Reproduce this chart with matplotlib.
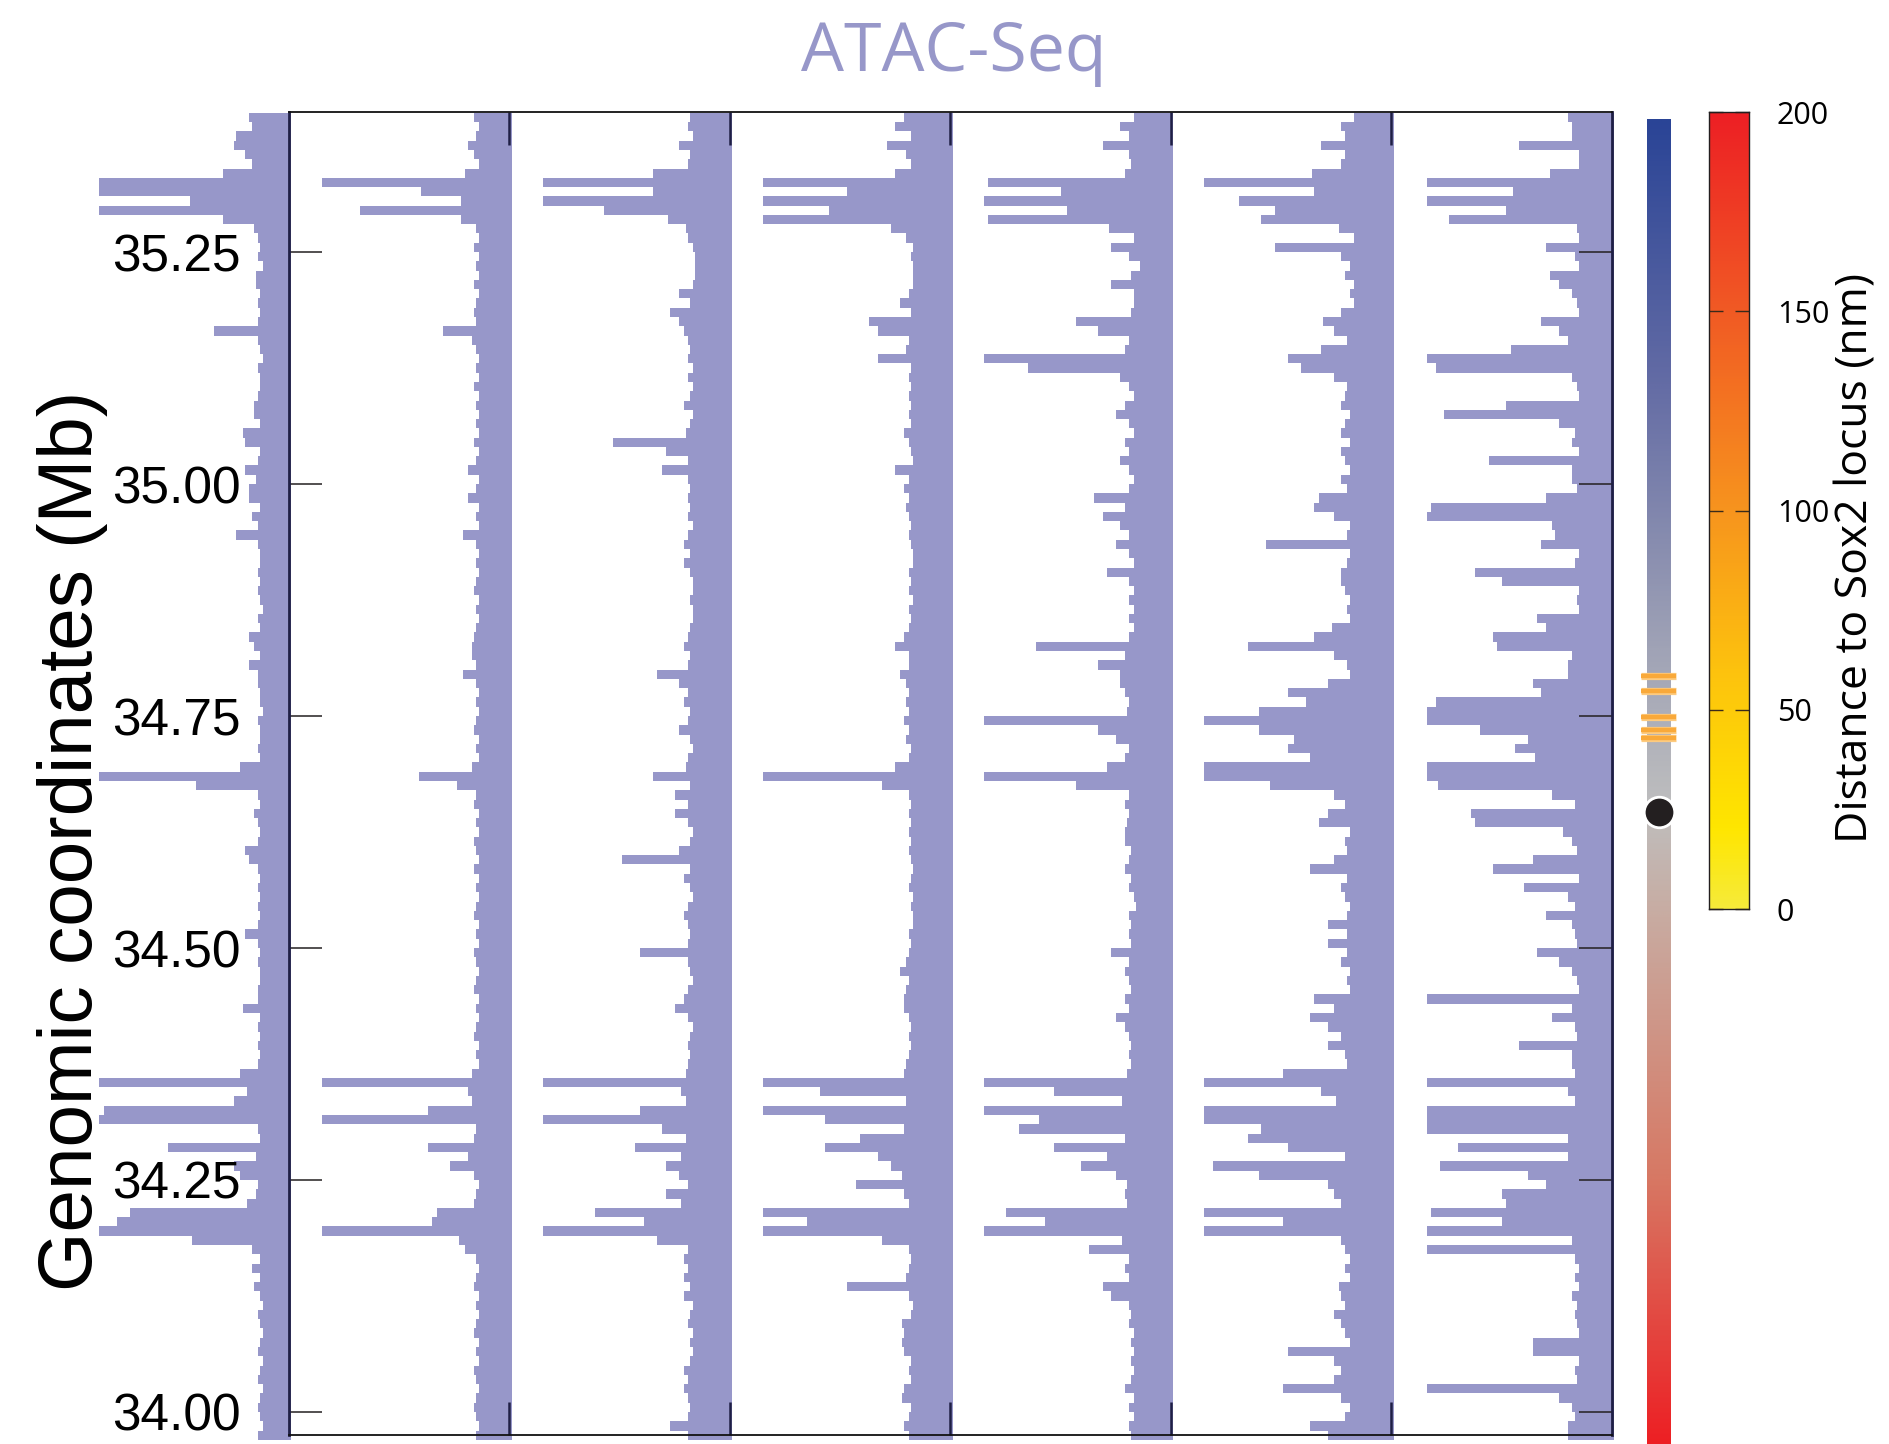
"""ATAC-Seq profiles along the Sox2 locus, 7 tracks + position strip + distance colorbar"""
import numpy as np
import matplotlib
matplotlib.use('Agg')
import matplotlib.pyplot as plt
from matplotlib.colors import LinearSegmentedColormap

plt.rcParams['font.family'] = ['Liberation Sans', 'DejaVu Sans']

# ---- data ----
# 10 kb bins, first bin starts at 35.40 Mb and goes down; values = % of one column width
bin_top = 35.40
bin_size = 0.01

track0 = [18, 17, 24, 25, 20, 17, 30, 86, 86, 45,
          86, 30, 16, 14, 13, 14, 12, 15, 15, 13,
          14, 13, 14, 34, 14, 13, 12, 14, 13, 13,
          14, 16, 16, 13, 21, 20, 13, 14, 20, 15,
          18, 18, 13, 17, 14, 24, 14, 13, 13, 14,
          13, 14, 13, 12, 14, 13, 18, 16, 13, 18,
          14, 14, 13, 13, 12, 14, 13, 13, 14, 13,
          22, 86, 42, 14, 13, 16, 14, 13, 14, 20,
          18, 14, 13, 14, 13, 14, 13, 14, 20, 14,
          13, 14, 13, 13, 14, 14, 21, 13, 14, 13,
          14, 13, 14, 22, 86, 19, 25, 84, 86, 14,
          13, 55, 15, 25, 22, 14, 15, 19, 72, 78,
          86, 44, 17, 13, 17, 13, 16, 13, 12, 14,
          13, 12, 13, 14, 12, 13, 14, 12, 13, 14,
          13, 12, 14]

track1 = [16, 14, 15, 19, 16, 14, 20, 85, 40, 22,
          68, 22, 15, 14, 16, 14, 15, 14, 16, 14,
          15, 16, 15, 30, 17, 15, 14, 15, 14, 16,
          14, 15, 14, 15, 14, 16, 14, 15, 19, 14,
          15, 19, 14, 15, 14, 21, 15, 14, 15, 14,
          15, 16, 14, 15, 14, 15, 16, 17, 17, 15,
          21, 15, 14, 15, 14, 15, 16, 14, 15, 14,
          17, 41, 24, 15, 16, 14, 15, 14, 16, 15,
          14, 16, 14, 15, 14, 15, 16, 14, 15, 14,
          16, 15, 14, 15, 16, 14, 15, 14, 15, 16,
          14, 15, 14, 17, 85, 19, 17, 37, 85, 15,
          16, 37, 19, 27, 16, 14, 15, 16, 33, 35,
          85, 23, 20, 15, 14, 15, 16, 14, 15, 14,
          15, 16, 14, 15, 14, 16, 15, 14, 15, 16,
          15, 14, 15]

track2 = [18, 19, 17, 23, 18, 19, 35, 85, 35, 85,
          57, 28, 20, 19, 17, 16, 16, 16, 17, 23,
          18, 27, 23, 21, 19, 18, 19, 17, 19, 17,
          18, 21, 17, 18, 20, 53, 29, 19, 31, 19,
          18, 19, 18, 19, 17, 19, 21, 18, 21, 18,
          17, 17, 18, 17, 17, 18, 19, 21, 18, 19,
          33, 23, 19, 21, 18, 19, 23, 18, 17, 19,
          20, 35, 18, 25, 19, 25, 19, 17, 18, 23,
          49, 18, 21, 18, 17, 19, 21, 19, 18, 19,
          41, 19, 18, 17, 19, 21, 25, 19, 17, 18,
          19, 18, 19, 20, 85, 22, 20, 41, 85, 31,
          20, 43, 22, 29, 23, 19, 29, 22, 61, 39,
          85, 33, 19, 21, 19, 21, 18, 21, 17, 18,
          19, 17, 18, 17, 18, 21, 19, 21, 19, 18,
          19, 27, 19]

track3 = [21, 25, 18, 29, 20, 18, 25, 85, 47, 85,
          55, 85, 27, 20, 17, 18, 17, 17, 17, 19,
          23, 18, 37, 33, 19, 20, 33, 18, 19, 18,
          19, 18, 19, 18, 21, 19, 18, 17, 25, 19,
          21, 19, 20, 19, 18, 19, 18, 17, 17, 19,
          18, 19, 17, 19, 18, 19, 21, 25, 19, 19,
          23, 20, 19, 20, 19, 21, 19, 20, 18, 19,
          25, 85, 31, 19, 18, 19, 18, 19, 18, 19,
          18, 17, 18, 19, 17, 18, 17, 17, 19, 18,
          19, 20, 23, 19, 20, 21, 21, 19, 18, 19,
          18, 19, 20, 21, 85, 59, 20, 85, 57, 21,
          41, 57, 33, 27, 22, 43, 21, 19, 85, 65,
          85, 31, 19, 18, 19, 20, 47, 19, 17, 18,
          22, 21, 22, 21, 18, 19, 18, 21, 22, 18,
          19, 21, 19]

track4 = [17, 23, 19, 31, 19, 18, 21, 83, 50, 85,
          47, 83, 28, 17, 27, 19, 14, 18, 27, 17,
          17, 18, 43, 33, 19, 21, 85, 65, 23, 19,
          17, 21, 25, 19, 17, 21, 19, 23, 19, 17,
          19, 35, 21, 31, 23, 19, 25, 19, 17, 29,
          19, 17, 19, 17, 19, 17, 19, 61, 21, 33,
          23, 23, 21, 19, 20, 85, 33, 25, 19, 21,
          29, 85, 43, 19, 21, 19, 20, 21, 21, 18,
          19, 21, 18, 19, 17, 16, 19, 18, 19, 18,
          27, 19, 21, 19, 18, 21, 19, 25, 21, 19,
          18, 19, 18, 20, 85, 53, 22, 85, 60, 69,
          21, 53, 29, 41, 25, 20, 21, 20, 75, 57,
          85, 22, 37, 19, 21, 19, 31, 27, 19, 18,
          19, 17, 18, 17, 18, 17, 18, 21, 17, 19,
          17, 19, 18]

track5 = [17, 23, 21, 32, 21, 23, 36, 85, 35, 69,
          53, 59, 24, 17, 53, 23, 19, 21, 17, 19,
          17, 23, 31, 26, 20, 32, 47, 41, 26, 20,
          21, 23, 19, 21, 23, 19, 23, 21, 19, 23,
          20, 33, 35, 26, 19, 20, 57, 19, 20, 23,
          23, 21, 19, 20, 19, 27, 35, 65, 26, 20,
          19, 29, 47, 39, 60, 85, 60, 44, 47, 37,
          85, 85, 55, 26, 21, 29, 33, 19, 21, 20,
          26, 37, 20, 23, 21, 19, 20, 29, 20, 29,
          20, 23, 19, 20, 19, 35, 26, 37, 29, 23,
          29, 21, 20, 49, 85, 32, 25, 85, 85, 59,
          65, 47, 21, 81, 60, 29, 26, 23, 85, 49,
          85, 23, 21, 19, 21, 19, 24, 23, 21, 26,
          23, 21, 19, 47, 26, 23, 26, 49, 23, 19,
          21, 37, 29]

track6 = [20, 18, 18, 42, 15, 15, 28, 84, 45, 84,
          48, 74, 16, 15, 30, 17, 15, 28, 24, 18,
          16, 15, 32, 24, 20, 46, 84, 80, 18, 16,
          15, 48, 76, 24, 17, 18, 15, 56, 18, 18,
          16, 30, 82, 84, 27, 26, 32, 15, 17, 62,
          50, 15, 16, 15, 34, 30, 54, 52, 18, 20,
          20, 36, 32, 80, 84, 84, 60, 38, 44, 35,
          84, 84, 79, 27, 17, 64, 62, 22, 18, 16,
          36, 54, 15, 40, 20, 17, 30, 18, 17, 16,
          34, 24, 18, 16, 15, 84, 18, 27, 17, 16,
          42, 18, 18, 17, 84, 20, 17, 84, 84, 84,
          20, 70, 20, 78, 38, 30, 50, 48, 82, 50,
          84, 18, 84, 17, 15, 17, 15, 18, 16, 17,
          16, 15, 36, 36, 15, 17, 16, 84, 24, 18,
          17, 20, 20]

tracks = [track0, track1, track2, track3, track4, track5, track6]

yticks = [34.00, 34.25, 34.50, 34.75, 35.00, 35.25]

# genomic position strip (low Mb -> high Mb) and marked elements
strip_stops = [0.0, 0.2, 0.4, 0.48, 0.6, 0.8, 1.0]
strip_colors = ['#ED2024', '#D77864', '#C8ACA2', '#BEBEBE', '#A0A3B6', '#646CA5', '#2A4496']
scr_marks = [34.793, 34.777, 34.749, 34.735, 34.726]
sox2_pos = 34.646

# distance colorbar
cbar_ticks = [0, 50, 100, 150, 200]
cbar_stops = [0.0, 0.1, 0.3, 0.5, 0.75, 1.0]
cbar_colors = ['#F6EB3A', '#FFE600', '#FDC20E', '#F7941E', '#F15A24', '#ED1F24']

# ---- figure ----
W, H = 1890, 1444
bar_color = '#9797C9'
navy = '#1F1F45'

fig = plt.figure(figsize=(W / 100, H / 100), dpi=100)
fig.patch.set_facecolor('white')

ax = fig.add_axes([289 / W, 1 - 1435 / H, 1323 / W, 1323 / H])
ax.set_xlim(0, 6)
ax.set_ylim(33.9752, 35.4009)

for k, vals in enumerate(tracks):
    v = np.asarray(vals, dtype=float) / 100
    ys = bin_top - bin_size * np.arange(len(v) + 1)
    xs = np.append(v, v[-1])
    ax.fill_betweenx(ys, k - xs, k + 0.01, step='post', color=bar_color, lw=0,
                     clip_on=False, zorder=1)

ax.set_yticks(yticks)
ax.set_yticklabels(['%.2f' % t for t in yticks])
ax.tick_params(axis='y', direction='in', left=True, right=True, length=24,
               width=1.1, color='#231F20', labelsize=37, pad=34.5)
ax.set_xticks(range(1, 6))
ax.tick_params(axis='x', direction='in', top=True, bottom=True, length=24,
               width=1.8, color=navy, labelbottom=False)
for side in ['left', 'right']:
    ax.spines[side].set_color(navy)
    ax.spines[side].set_linewidth(2)
for side in ['top', 'bottom']:
    ax.spines[side].set_color('#111111')
    ax.spines[side].set_linewidth(1.3)

fig.text(73 / W, 1 - 841 / H, 'Genomic coordinates (Mb)', rotation=90,
         ha='center', va='center', fontsize=55)
fig.text(954 / W, 1 - 71 / H, 'ATAC-Seq', ha='center', va='baseline',
         fontsize=49, color=bar_color, family=['Open Sans', 'DejaVu Sans'])

# position strip
strip_cmap = LinearSegmentedColormap.from_list('strip', list(zip(strip_stops, strip_colors)))
sax = fig.add_axes([1647 / W, 0, 24 / W, (H - 119) / H])
s_lo, s_hi = 33.9655, 35.3933
sax.imshow(np.linspace(0, 1, 512).reshape(-1, 1), cmap=strip_cmap, origin='lower',
           aspect='auto', extent=[0, 1, s_lo, s_hi])
sax.set_xlim(0, 1)
sax.set_ylim(s_lo, s_hi)
sax.axis('off')
for m in scr_marks:
    sax.plot([-0.25, 1.21], [m, m], color='#FDCB80', lw=5.2, solid_capstyle='butt',
             clip_on=False, zorder=3)
    sax.plot([-0.23, 1.19], [m, m], color='#F9A93A', lw=3.2, solid_capstyle='butt',
             clip_on=False, zorder=4)
sax.plot(0.5, sox2_pos, 'o', ms=22, mfc='#231F20', mec='white', mew=2,
         clip_on=False, zorder=5)

# distance colorbar
cbar_cmap = LinearSegmentedColormap.from_list('dist', list(zip(cbar_stops, cbar_colors)))
cax = fig.add_axes([1709 / W, 1 - 909 / H, 40 / W, (909 - 112) / H])
cax.imshow(np.linspace(0, 200, 512).reshape(-1, 1), cmap=cbar_cmap, origin='lower',
           aspect='auto', extent=[0, 1, 0, 200])
cax.set_xlim(0, 1)
cax.set_ylim(0, 200)
cax.set_xticks([])
cax.set_yticks(cbar_ticks)
cax.tick_params(axis='y', direction='in', left=True, right=True, labelleft=False,
                labelright=True, length=10, width=1, color='#3A2A1A', pad=20,
                labelsize=22)
for lab in cax.get_yticklabels():
    lab.set_family(['Open Sans', 'DejaVu Sans'])
for s in cax.spines.values():
    s.set_color('#231F20')
    s.set_linewidth(1)

fig.text(1856 / W, 1 - 558 / H, 'Distance to Sox2 locus (nm)', rotation=90,
         ha='center', va='center', fontsize=32, family=['Open Sans', 'DejaVu Sans'])

fig.savefig('out.png', dpi=100)
plt.close(fig)
